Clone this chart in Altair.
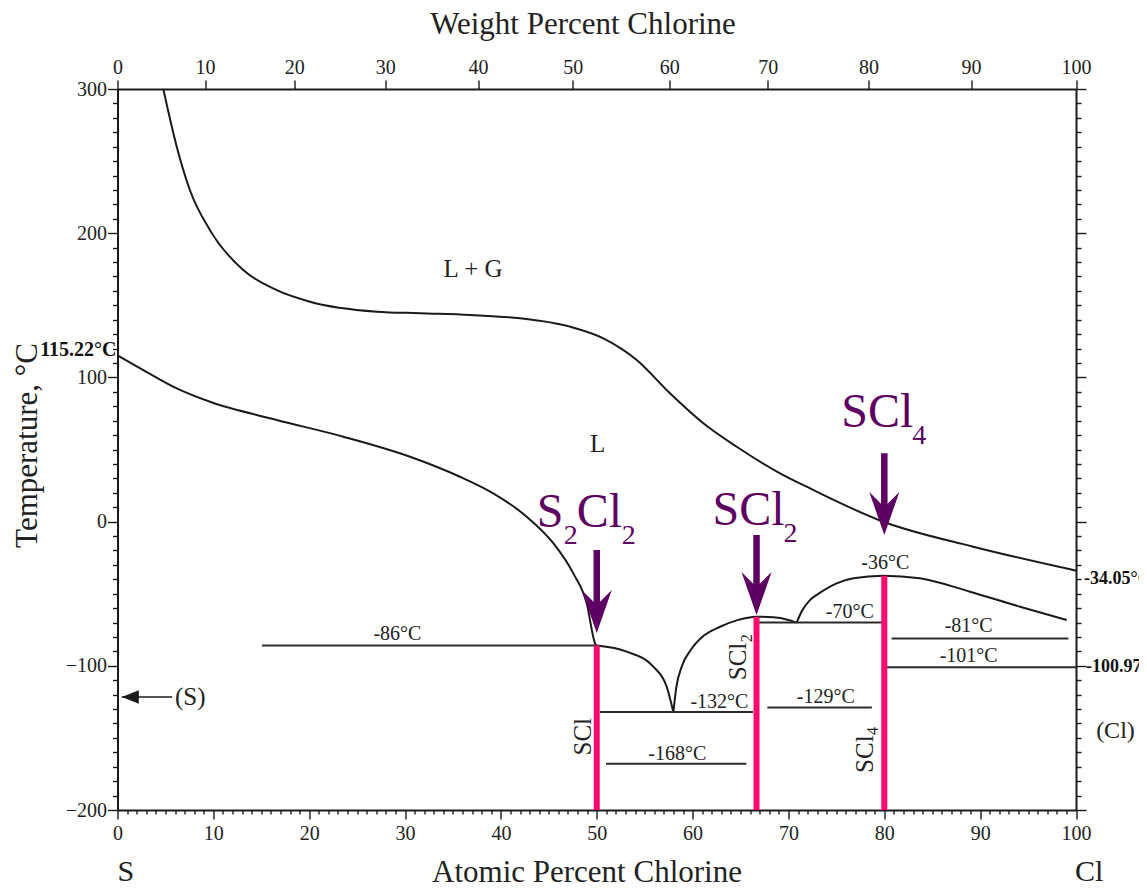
import altair as alt
import pandas as pd

SERIF = "Liberation Serif"
INK = "#1a1a1a"
PURPLE = "#5e0063"
PINK = "#ff0a6c"

# ---------------- data ----------------
# upper curve (L / L+G boundary): atomic % Cl, temperature
upper_x = [4.78, 6.18, 7.56, 9.65, 13.12, 16.61, 20.08, 27.04, 31.56, 36.78, 41.99,
           47.2, 50.68, 54.17, 57.64, 61.12, 64.6, 69.12, 71.9, 79.9, 89.28, 99.7, 100]
upper_T = [300, 260, 229.8, 202.1, 174.4, 160.5, 152.5, 145.6, 144.5, 143.3, 141,
           135.2, 127.1, 112.1, 89, 68.2, 51.9, 33.5, 24.2, -0.1, -17.4, -33.6, -34.05]

# liquidus, S side down to S2Cl2
liqS_x = [0, 2.69, 6.18, 9.65, 16.61, 23.56, 30.52, 35.73, 39.2, 42.69, 45.47, 47.55, 48.95, 49.82, 49.95]
liqS_T = [115.22, 105.1, 92.4, 83.1, 70.5, 58.9, 45, 31.1, 19.6, 3.4, -15, -35.9, -56.7, -84.4, -86]

# S2Cl2 right branch down to the eutectic
liqA_x = [50.0, 53.12, 55.9, 57.3, 57.99]
liqA_T = [-86, -90.2, -100.6, -114.5, -132]

# SCl2 dome
liqB_x = [58.0, 58.3, 58.9, 59.8, 61.0, 62.87, 64.6, 66.7, 68.42, 70.0, 70.86]
liqB_T = [-132, -115, -100, -89, -80, -72.9, -68.5, -66, -66.3, -68.2, -70.1]

# SCl4 dome
liqC_x = [70.86, 71.4, 72.25, 73.3, 75.03, 76.77, 79.9, 83.7, 88.94, 94.16, 99.03]
liqC_T = [-70.1, -62, -54.4, -49.3, -42.8, -39.3, -37.5, -39.3, -48.6, -59, -68.2]

# invariant (horizontal) lines
h_T = [-86, -132, -168, -129, -70, -81, -101]
h_x1 = [15.08, 50.34, 50.97, 67.8, 66.7, 80.77, 80.25]
h_x2 = [50.0, 66.3, 65.6, 78.7, 80.0, 99.2, 100]

# temperature labels of the invariants
lab_text = ["-86°C", "-132°C", "-168°C", "-129°C", "-70°C", "-36°C", "-81°C", "-101°C"]
lab_x = [29.2, 62.8, 58.4, 73.9, 76.4, 80.1, 88.8, 88.8]
lab_T = [-82.1, -129.5, -165.3, -126, -67, -33.1, -76.3, -97.2]

# compounds (atomic % Cl) and the top of their pink lines
comp_x = [50.0, 66.67, 80.0]
comp_top = [-86, -66, -37.5]

# purple arrows: shaft top, tip
arrow_top = [-19.7, -9.3, 47.4]
arrow_tip = [-77.3, -64.8, -9.3]

# atomic masses for the weight-percent axis
M_S, M_CL = 32.06, 35.453
weight_ticks = list(range(0, 101, 10))


def at_pct(w):
    a = w / M_CL
    b = (100 - w) / M_S
    return 100 * a / (a + b)


weight_pos = [at_pct(w) for w in weight_ticks]

# ---------------- tables ----------------
rows = []
for name, xs_, ts_ in [("upper", upper_x, upper_T), ("liqS", liqS_x, liqS_T),
                       ("liqA", liqA_x, liqA_T), ("liqB", liqB_x, liqB_T),
                       ("liqC", liqC_x, liqC_T)]:
    for i, (a, b) in enumerate(zip(xs_, ts_)):
        rows.append({"series": name, "i": i, "x": a, "T": b})
curve_df = pd.DataFrame(rows)
h_df = pd.DataFrame({"T": h_T, "x": h_x1, "x2": h_x2})
lab_df = pd.DataFrame({"label": lab_text, "x": lab_x, "T": lab_T})
pink_df = pd.DataFrame({"x": comp_x, "T": comp_top, "T2": [-200] * 3})
arr_df = pd.DataFrame({"x": comp_x, "T": arrow_top, "T2": [t + 12 for t in arrow_tip]})
tip_df = pd.DataFrame({"x": comp_x, "T": arrow_tip})

xs = alt.Scale(domain=[0, 100], nice=False, zero=False)
ys = alt.Scale(domain=[-200, 300], nice=False, zero=False)

common_axis = dict(grid=False, domainColor=INK, domainWidth=2, tickColor=INK, tickWidth=1.4,
                   labelFont=SERIF, labelFontSize=20, labelColor="#222", labelOverlap=False,
                   labelFlush=False, labelBound=False, titleFont=SERIF, titleFontWeight="normal",
                   titleColor="#222", titleFontSize=31)

bottom_axis = alt.Axis(orient="bottom", values=list(range(0, 101)),
                       labelExpr="datum.value % 10 === 0 ? datum.label : ''",
                       tickSize={"condition": {"test": "datum.value % 10 === 0", "value": 9}, "value": 4},
                       labelPadding=4, title="Atomic Percent Chlorine", titleX=469, titleY=71,
                       titleBaseline="alphabetic", titleAlign="center", **common_axis)
left_axis = alt.Axis(orient="left", values=list(range(-200, 301, 10)),
                     labelExpr="datum.value % 100 === 0 ? datum.label : ''",
                     tickSize={"condition": {"test": "datum.value % 100 === 0", "value": 10}, "value": 5},
                     labelPadding=1, title="Temperature, °C", titleAngle=270, titleX=-81, titleY=356,
                     titleBaseline="alphabetic", titleAlign="center", **common_axis)
top_axis = alt.Axis(orient="top", values=weight_pos, tickSize=9, labelPadding=3,
                    labelExpr="format(round(100*datum.value*%s/(datum.value*%s+(100-datum.value)*%s)), 'd')"
                              % (M_CL, M_CL, M_S),
                    title="Weight Percent Chlorine", titleX=465, titleY=-56,
                    titleBaseline="alphabetic", titleAlign="center", **common_axis)
right_axis = alt.Axis(orient="right", values=list(range(-200, 301, 10)), labels=False,
                      tickSize={"condition": {"test": "datum.value % 100 === 0", "value": 10}, "value": 5},
                      title=None, **{k: v for k, v in common_axis.items() if not k.startswith("title")})


def X(field="x", axis=None):
    return alt.X(f"{field}:Q", scale=xs, axis=axis)


def Y(field="T", axis=None):
    return alt.Y(f"{field}:Q", scale=ys, axis=axis)


curves = alt.Chart(curve_df).mark_line(color=INK, strokeWidth=2, interpolate="monotone").encode(
    x=X(axis=bottom_axis), y=Y(axis=left_axis), detail="series:N", order="i:Q")

hlines = alt.Chart(h_df).mark_rule(color="#2a2a2a", strokeWidth=2).encode(
    x=X(axis=top_axis), x2="x2:Q", y=Y(axis=right_axis))

labels = alt.Chart(lab_df).mark_text(font=SERIF, fontSize=20, color="#222", align="center",
                                     baseline="alphabetic").encode(x=X(), y=Y(), text="label:N")

pink = alt.Chart(pink_df).mark_rule(color=PINK, strokeWidth=6).encode(x=X(), y=Y(), y2="T2:Q")

shafts = alt.Chart(arr_df).mark_rule(color=PURPLE, strokeWidth=6.5).encode(x=X(), y=Y(), y2="T2:Q")
heads = alt.Chart(tip_df).mark_point(shape="M0,0 L-0.7,-2 L0,-1.3 L0.7,-2 Z", size=1849, filled=True,
                                     color=PURPLE, opacity=1, strokeWidth=0).encode(x=X(), y=Y())

layers = [curves, hlines, pink, shafts, heads, labels]


def one_text(text, x, T, **kw):
    df = pd.DataFrame({"x": [x], "T": [T], "label": [text]})
    props = dict(font=SERIF, color="#222", align="left", baseline="alphabetic")
    props.update(kw)
    return alt.Chart(df).mark_text(**props).encode(x=X(), y=Y(), text="label:N")


# compound names (purple) — pieces with subscripts
big, sub = 48, 28
pieces = [
    ("S", 50.0, -3.5, -60, 0, big), ("2", 50.0, -3.5, -33, 17, sub),
    ("Cl", 50.0, -3.5, -20, 0, big), ("2", 50.0, -3.5, 25, 17, sub),
    ("SCl", 66.67, -2.4, -44, 0, big), ("2", 66.67, -2.4, 27, 17, sub),
    ("SCl", 80.0, 65.8, -43, 0, big), ("4", 80.0, 65.8, 28, 17, sub),
]
for t, x, T, dx, dy, fs in pieces:
    layers.append(one_text(t, x, T, dx=dx, dy=dy, fontSize=fs, color=PURPLE))

# rotated compound names along the pink lines
rot = [
    ("SCl", 50.0, -162.2, 0, -6, 25),
    ("SCl", 66.67, -110, 0, -10.5, 25), ("2", 66.67, -110, 38, -4.5, 16),
    ("SCl", 80.0, -174.3, 0, -11.3, 25), ("4", 80.0, -174.3, 38, -6, 16),
]
for t, x, T, dx, dy, fs in rot:
    layers.append(one_text(t, x, T, dx=dx, dy=dy, fontSize=fs, angle=270))

# region / misc labels
layers += [
    one_text("L + G", 37.1, 169.8, fontSize=25, align="center"),
    one_text("L", 50.1, 48.3, fontSize=25, align="center"),
    one_text("(S)", 6.0, -121.6, fontSize=25, baseline="middle"),
    one_text("(Cl)", 102.1, -145, fontSize=24, baseline="middle"),
    one_text("115.22°C", 0, 115.22, fontSize=20, fontWeight="bold", align="right", dx=-1, dy=1, color="#111"),
    one_text("-34.05°C", 100, -34.05, fontSize=18, fontWeight="bold", dx=8, dy=8, baseline="middle", color="#111"),
    one_text("-100.97°C", 100, -100.97, fontSize=18, fontWeight="bold", dx=10, baseline="middle", color="#111"),
    one_text("S", 0, -200, fontSize=30, dy=71),
    one_text("Cl", 100, -200, fontSize=30, dy=71, dx=-1),
]

# (S) arrow
s_arrow_df = pd.DataFrame({"x": [0.45], "x2": [5.7], "T": [-121.6]})
layers.append(alt.Chart(s_arrow_df).mark_rule(color=INK, strokeWidth=1.5).encode(x=X(), x2="x2:Q", y=Y()))
layers.append(alt.Chart(s_arrow_df).mark_point(shape="M0,0 L2,-0.8 L2,0.8 Z", size=289, filled=True,
                                               color=INK, opacity=1, strokeWidth=0).encode(x=X(), y=Y()))

chart = alt.layer(*layers).properties(
    width=958.5, height=721,
    autosize=alt.AutoSizeParams(type="none"),
    padding={"left": 109.5, "top": 81, "right": 63, "bottom": 72},
    background="white",
).configure_view(stroke=None)

chart.save("out.html", embed_options={"renderer": "svg", "actions": False})
